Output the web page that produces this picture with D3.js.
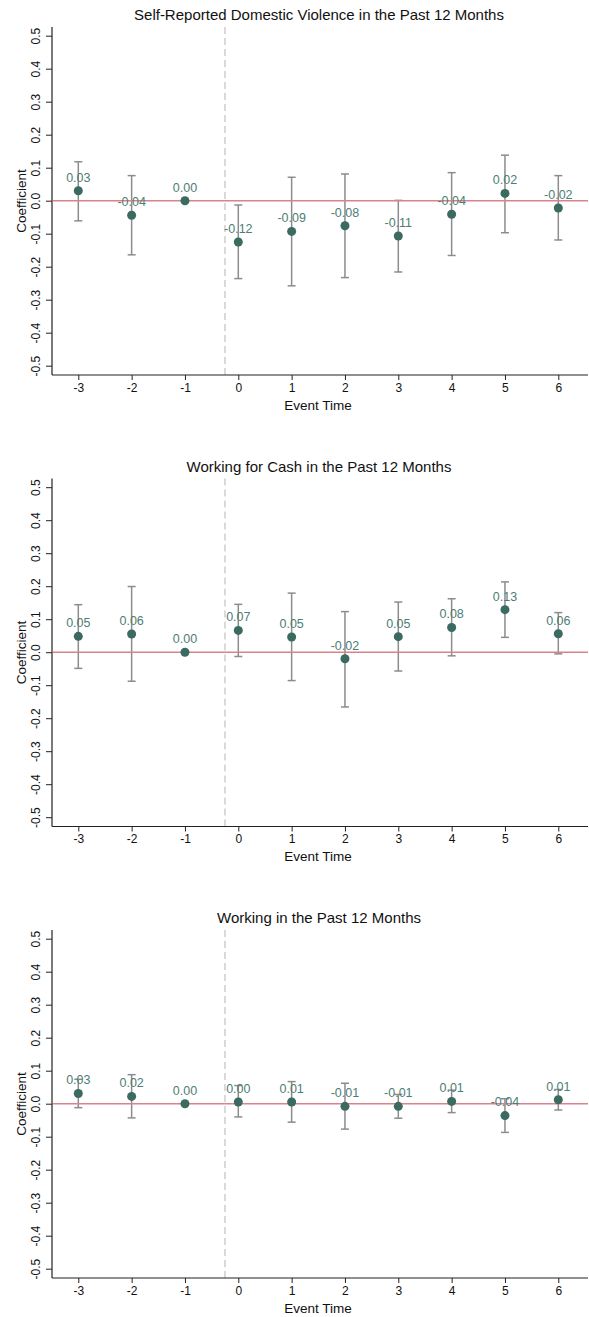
<!DOCTYPE html>
<html>
<head>
<meta charset="utf-8">
<script src="https://cdn.jsdelivr.net/npm/d3@7"></script>
<style>
  html, body { margin: 0; padding: 0; background: #fff; }
  svg { display: block; font-family: "Liberation Sans", Arial, Helvetica, sans-serif; }
</style>
</head>
<body>
<svg id="chart" width="589" height="1317"></svg>
<script>
// ---------- data ----------
const eventTimes = [-3, -2, -1, 0, 1, 2, 3, 4, 5, 6];
const yTicks = [-0.5, -0.4, -0.3, -0.2, -0.1, 0.0, 0.1, 0.2, 0.3, 0.4, 0.5];
const titles = [
  "Self-Reported Domestic Violence in the Past 12 Months",
  "Working for Cash in the Past 12 Months",
  "Working in the Past 12 Months"
];
const treatmentLine = -0.25;

const dvCoef   = [0.030, -0.044, 0, -0.125, -0.093, -0.076, -0.107, -0.041, 0.022, -0.022];
const dvLo     = [-0.061, -0.164, 0, -0.236, -0.258, -0.233, -0.216, -0.166, -0.097, -0.119];
const dvHi     = [0.118, 0.076, 0, -0.013, 0.071, 0.081, 0.001, 0.085, 0.138, 0.076];
const dvLabels = ["0.03","-0.04","0.00","-0.12","-0.09","-0.08","-0.11","-0.04","0.02","-0.02"];

const cashCoef   = [0.048, 0.055, 0, 0.066, 0.046, -0.020, 0.047, 0.075, 0.129, 0.056];
const cashLo     = [-0.049, -0.088, 0, -0.013, -0.086, -0.166, -0.057, -0.011, 0.045, -0.005];
const cashHi     = [0.144, 0.199, 0, 0.145, 0.179, 0.123, 0.152, 0.162, 0.213, 0.120];
const cashLabels = ["0.05","0.06","0.00","0.07","0.05","-0.02","0.05","0.08","0.13","0.06"];

const workCoef   = [0.031, 0.022, 0, 0.005, 0.005, -0.008, -0.008, 0.007, -0.036, 0.012];
const workLo     = [-0.012, -0.043, 0, -0.040, -0.056, -0.077, -0.044, -0.027, -0.087, -0.019];
const workHi     = [0.074, 0.088, 0, 0.055, 0.067, 0.062, 0.028, 0.041, 0.015, 0.043];
const workLabels = ["0.03","0.02","0.00","0.00","0.01","-0.01","-0.01","0.01","-0.04","0.01"];

const panels = [
  { title: titles[0], coef: dvCoef, lo: dvLo, hi: dvHi, labels: dvLabels },
  { title: titles[1], coef: cashCoef, lo: cashLo, hi: cashHi, labels: cashLabels },
  { title: titles[2], coef: workCoef, lo: workLo, hi: workHi, labels: workLabels }
];

// ---------- layout ----------
const panelStep = 451.5;
const axisLeft = 52, axisRight = 588, plotTop = 27, plotBottom = 375;
const C = {
  point: "#3b6a61", label: "#4e7d75", bar: "#8c8c8c",
  zero: "#d9838b", dash: "#c6c6c6", axis: "#222", text: "#111"
};

const x = d3.scaleLinear().domain([-3, 6]).range([78.3, 558.3]);
const y = d3.scaleLinear().domain([-0.5, 0.5]).range([365.7, 35.7]);
const fmtY = d => (d < 0 ? "-" : "") + Math.abs(d).toFixed(1);

const svg = d3.select("#chart");

panels.forEach((p, pi) => {
  const g = svg.append("g").attr("transform", `translate(0,${pi * panelStep})`);
  const rows = eventTimes.map((t, i) => ({ t, c: p.coef[i], lo: p.lo[i], hi: p.hi[i], lab: p.labels[i] }));

  // title
  g.append("text")
    .attr("x", (axisLeft + axisRight) / 2 - 1).attr("y", 20)
    .attr("text-anchor", "middle").attr("font-size", 15).attr("fill", C.text)
    .text(p.title);

  // treatment dashed line
  g.append("line")
    .attr("x1", x(treatmentLine)).attr("x2", x(treatmentLine))
    .attr("y1", plotTop).attr("y2", plotBottom)
    .attr("stroke", C.dash).attr("stroke-width", 1.3).attr("stroke-dasharray", "7,4");

  // y axis
  const yAxis = d3.axisLeft(y).tickValues(yTicks).tickSize(6).tickFormat(fmtY);
  const ya = g.append("g").attr("transform", `translate(${axisLeft},0)`).call(yAxis);
  ya.select(".domain").remove();
  ya.selectAll(".tick line").attr("stroke", C.axis).attr("stroke-width", 1);
  ya.selectAll(".tick text")
    .attr("transform", "rotate(-90)")
    .attr("x", 0).attr("y", -12).attr("dy", 0)
    .attr("text-anchor", "middle")
    .attr("font-size", 12).attr("fill", C.text)
    .attr("font-family", "Liberation Sans, Arial, sans-serif");
  g.append("line").attr("x1", axisLeft).attr("x2", axisLeft)
    .attr("y1", plotTop).attr("y2", plotBottom)
    .attr("stroke", C.axis).attr("stroke-width", 1.2);

  // x axis
  const xAxis = d3.axisBottom(x).tickValues(eventTimes).tickSize(5)
    .tickFormat(d => d < 0 ? "-" + Math.abs(d) : String(d));
  const xa = g.append("g").attr("transform", `translate(0,${plotBottom})`).call(xAxis);
  xa.select(".domain").remove();
  xa.selectAll(".tick line").attr("stroke", C.axis);
  xa.selectAll(".tick text")
    .attr("y", 8).attr("dy", "0.71em")
    .attr("font-size", 12).attr("fill", C.text)
    .attr("font-family", "Liberation Sans, Arial, sans-serif");
  g.append("line").attr("x1", axisLeft).attr("x2", axisRight)
    .attr("y1", plotBottom).attr("y2", plotBottom)
    .attr("stroke", C.axis).attr("stroke-width", 1.2);

  // axis titles
  g.append("text")
    .attr("transform", `translate(21,${(plotTop + plotBottom) / 2}) rotate(-90)`)
    .attr("text-anchor", "middle").attr("dy", "0.35em")
    .attr("font-size", 13.5).attr("fill", C.text)
    .text("Coefficient");
  g.append("text")
    .attr("x", (axisLeft + axisRight) / 2 - 2).attr("y", 405).attr("dy", "0.35em")
    .attr("text-anchor", "middle").attr("font-size", 13.5).attr("fill", C.text)
    .text("Event Time");

  // error bars
  const bars = rows.filter(d => d.hi !== d.lo);
  const eb = g.append("g").attr("stroke", C.bar).attr("stroke-width", 1.5).attr("fill", "none");
  eb.selectAll("line.v").data(bars).join("line")
    .attr("x1", d => x(d.t)).attr("x2", d => x(d.t))
    .attr("y1", d => y(d.lo)).attr("y2", d => y(d.hi));
  eb.selectAll("line.top").data(bars).join("line")
    .attr("x1", d => x(d.t) - 4).attr("x2", d => x(d.t) + 4)
    .attr("y1", d => y(d.hi)).attr("y2", d => y(d.hi));
  eb.selectAll("line.bot").data(bars).join("line")
    .attr("x1", d => x(d.t) - 4).attr("x2", d => x(d.t) + 4)
    .attr("y1", d => y(d.lo)).attr("y2", d => y(d.lo));

  // zero line
  g.append("line")
    .attr("x1", axisLeft + 1).attr("x2", axisRight)
    .attr("y1", y(0)).attr("y2", y(0))
    .attr("stroke", C.zero).attr("stroke-width", 1.5);

  // points
  g.append("g").selectAll("circle").data(rows).join("circle")
    .attr("cx", d => x(d.t)).attr("cy", d => y(d.c)).attr("r", 4.5)
    .attr("fill", C.point);

  // value labels
  g.append("g").selectAll("text").data(rows).join("text")
    .attr("x", d => x(d.t)).attr("y", d => y(d.c) - 13.5).attr("dy", "0.35em")
    .attr("text-anchor", "middle").attr("font-size", 12.5).attr("fill", C.label)
    .text(d => d.lab);
});
</script>
</body>
</html>
